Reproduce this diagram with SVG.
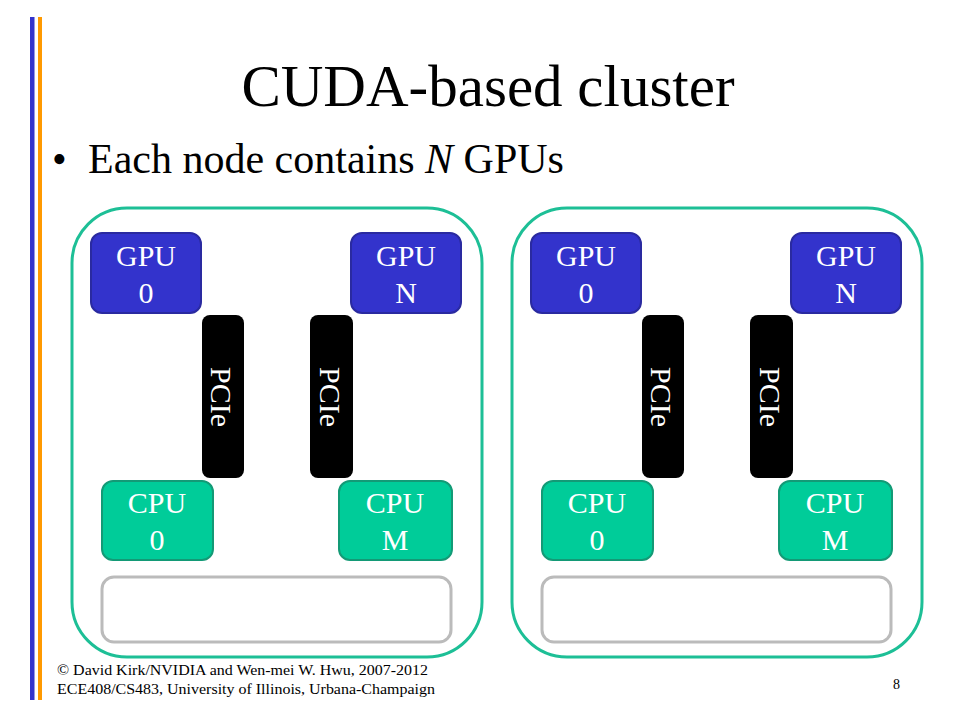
<svg xmlns="http://www.w3.org/2000/svg" width="960" height="720" viewBox="0 0 960 720" font-family="'Liberation Serif', 'Times New Roman', Times, 'DejaVu Serif', serif">
<style>
text{font-family:'Liberation Serif','Times New Roman',Times,'DejaVu Serif',serif;}
.outer{fill:none;stroke:#1DBF96;stroke-width:3;}
.gpu{fill:#3333CC;stroke:#2A2AA0;stroke-width:2;}
.cpu{fill:#00CC99;stroke:#139A76;stroke-width:2;}
.pcie{fill:#000000;}
.mem{fill:#FFFFFF;stroke:#BBBBBB;stroke-width:3;}
.lbl{font-size:30px;fill:#FFFFFF;text-anchor:middle;}
.foot{font-size:14px;fill:#000000;}
</style>
<rect x="0" y="0" width="960" height="720" fill="#FFFFFF"/>
<rect x="30" y="17" width="4.5" height="683" fill="#3333CC"/>
<rect x="38" y="17" width="4" height="683" fill="#FF9900"/>
<text x="488" y="106" font-size="59" text-anchor="middle" fill="#000">CUDA-based cluster</text>
<text x="52" y="173" font-size="42" fill="#000">•</text>
<text x="88" y="173" font-size="42" fill="#000">Each node contains <tspan font-style="italic">N</tspan> GPUs</text>

<g id="connectors"></g>

<g id="cluster1">
<rect class="outer" x="72" y="208" width="410" height="449" rx="55"/>
<g id="c1-gpu0"><rect class="gpu" x="91" y="233" width="110" height="80" rx="11"/>
<text class="lbl" x="146" y="266">GPU</text><text class="lbl" x="146" y="303">0</text></g>
<g id="c1-gpun"><rect class="gpu" x="351" y="233" width="110" height="80" rx="11"/>
<text class="lbl" x="406" y="266">GPU</text><text class="lbl" x="406" y="303">N</text></g>
<g id="c1-pcie1"><rect class="pcie" x="202" y="315" width="42" height="163" rx="8"/>
<text class="lbl" transform="translate(211,397) rotate(90)">PCIe</text></g>
<g id="c1-pcie2"><rect class="pcie" x="310" y="315" width="43" height="163" rx="8"/>
<text class="lbl" transform="translate(320,397) rotate(90)">PCIe</text></g>
<g id="c1-cpu0"><rect class="cpu" x="102" y="481" width="111" height="79" rx="11"/>
<text class="lbl" x="157" y="513">CPU</text><text class="lbl" x="157" y="550">0</text></g>
<g id="c1-cpum"><rect class="cpu" x="339" y="481" width="113" height="79" rx="11"/>
<text class="lbl" x="395" y="513">CPU</text><text class="lbl" x="395" y="550">M</text></g>
<g id="c1-mem"><rect class="mem" x="102" y="577" width="349" height="65" rx="12"/></g>
</g>

<g id="cluster2">
<rect class="outer" x="512" y="208" width="410" height="449" rx="55"/>
<g id="c2-gpu0"><rect class="gpu" x="531" y="233" width="110" height="80" rx="11"/>
<text class="lbl" x="586" y="266">GPU</text><text class="lbl" x="586" y="303">0</text></g>
<g id="c2-gpun"><rect class="gpu" x="791" y="233" width="110" height="80" rx="11"/>
<text class="lbl" x="846" y="266">GPU</text><text class="lbl" x="846" y="303">N</text></g>
<g id="c2-pcie1"><rect class="pcie" x="642" y="315" width="42" height="163" rx="8"/>
<text class="lbl" transform="translate(651,397) rotate(90)">PCIe</text></g>
<g id="c2-pcie2"><rect class="pcie" x="750" y="315" width="43" height="163" rx="8"/>
<text class="lbl" transform="translate(760,397) rotate(90)">PCIe</text></g>
<g id="c2-cpu0"><rect class="cpu" x="542" y="481" width="111" height="79" rx="11"/>
<text class="lbl" x="597" y="513">CPU</text><text class="lbl" x="597" y="550">0</text></g>
<g id="c2-cpum"><rect class="cpu" x="779" y="481" width="113" height="79" rx="11"/>
<text class="lbl" x="835" y="513">CPU</text><text class="lbl" x="835" y="550">M</text></g>
<g id="c2-mem"><rect class="mem" x="542" y="577" width="349" height="65" rx="12"/></g>
</g>

<text class="foot" x="57" y="675" textLength="371" lengthAdjust="spacingAndGlyphs">© David Kirk/NVIDIA and Wen-mei W. Hwu, 2007-2012</text>
<text class="foot" x="57" y="694" textLength="378" lengthAdjust="spacingAndGlyphs">ECE408/CS483, University of Illinois,  Urbana-Champaign</text>
<text class="foot" x="893" y="689">8</text>
</svg>
